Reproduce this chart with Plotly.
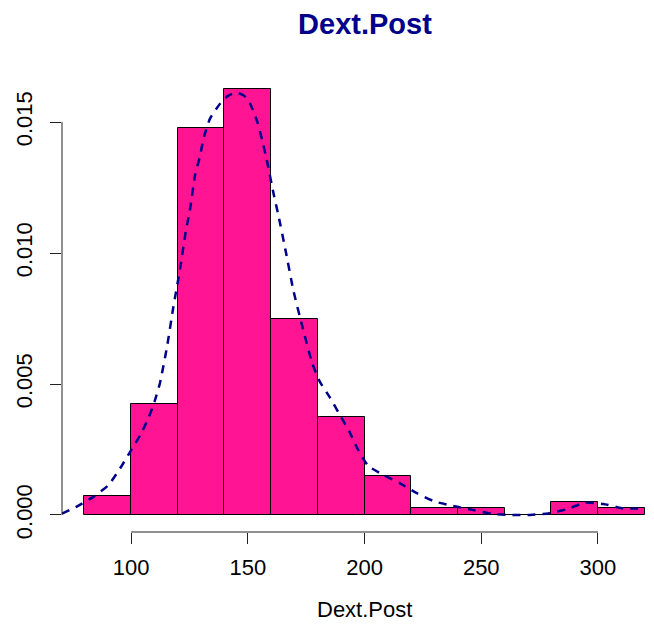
import plotly.graph_objects as go

# Histogram bins (width 20) and their densities
breaks = [80, 100, 120, 140, 160, 180, 200, 220, 240, 260, 280, 300, 320]
density = [0.00074, 0.00423, 0.01476, 0.01625, 0.00750, 0.00374, 0.00148,
           0.00025, 0.00025, 0.0, 0.00049, 0.00025]

# Kernel density estimate curve
kde_x = [70.4, 76.7, 84.3, 90.3, 95.3, 99.6, 103.9, 107.4, 110.0, 112.4, 115.5,
         118.1, 121.0, 123.4, 125.3, 127.4, 129.6, 131.0, 133.8, 138.1, 141.5,
         145.3, 148.5, 151.0, 154.1, 156.2, 158.0, 161.2, 163.1, 166.3, 169.5,
         173.4, 177.6, 180.9, 185.2, 189.5, 193.5, 197.3, 201.6, 208.0, 215.2,
         222.4, 230.2, 238.0, 246.6, 254.5, 262.3, 270.9, 278.7, 286.6, 294.4,
         302.3, 310.8, 320.0]
kde_y = [0.00005, 0.00032, 0.00072, 0.00114, 0.00178, 0.00241, 0.00305, 0.00369,
         0.00432, 0.00505, 0.00648, 0.00794, 0.00941, 0.01081, 0.01170, 0.01297,
         0.01373, 0.01437, 0.01513, 0.01570, 0.01600, 0.01613, 0.01600, 0.01570,
         0.01500, 0.01430, 0.01360, 0.01220, 0.01144, 0.01004, 0.00858, 0.00718,
         0.00579, 0.00508, 0.00448, 0.00381, 0.00318, 0.00248, 0.00187, 0.00153,
         0.00121, 0.00083, 0.00051, 0.00034, 0.00019, 0.00004, 0.0, 0.0,
         0.00006, 0.00022, 0.00047, 0.00042, 0.00025, 0.00025]

x_ticks = [100, 150, 200, 250, 300]
y_ticks = [0.0, 0.005, 0.010, 0.015]
y_tick_text = ["0.000", "0.005", "0.010", "0.015"]

centers = [(a + b) / 2 for a, b in zip(breaks[:-1], breaks[1:])]
widths = [b - a for a, b in zip(breaks[:-1], breaks[1:])]

FONT = "Liberation Sans, Arial, Helvetica, sans-serif"

fig = go.Figure()
fig.add_trace(go.Bar(
    x=centers, y=density, width=widths,
    marker=dict(color="#FF1493", line=dict(color="black", width=1)),
    showlegend=False, hoverinfo="x+y",
))
fig.add_trace(go.Scatter(
    x=kde_x, y=kde_y, mode="lines",
    line=dict(color="#00008B", width=2.5, dash="8px,7px", shape="spline", smoothing=0.5),
    showlegend=False, cliponaxis=True,
))

# axis lines spanning only the tick range
fig.add_shape(type="line", xref="paper", yref="y", x0=0, x1=0,
              y0=min(y_ticks), y1=max(y_ticks), line=dict(color="#222", width=1))
fig.add_shape(type="line", xref="x", yref="paper", y0=0, y1=0,
              x0=min(x_ticks), x1=max(x_ticks), line=dict(color="#222", width=1))

fig.add_annotation(text="Dext.Post", xref="paper", yref="paper",
                   x=0.5118, y=-0.169, xanchor="center", yanchor="middle",
                   showarrow=False, font=dict(family=FONT, size=22, color="black"))

fig.update_layout(
    width=654, height=624,
    margin=dict(l=62, r=0, t=71, b=92),
    paper_bgcolor="white", plot_bgcolor="white",
    bargap=0,
    title=dict(text="<b>Dext.Post</b>", xref="container", yref="container",
               x=365 / 654, y=1 - 24 / 624, xanchor="center", yanchor="middle",
               font=dict(family=FONT, size=29, color="#00008B")),
    font=dict(family=FONT, size=22, color="black"),
    xaxis=dict(range=[70.4, 324.0], tickvals=x_ticks, ticks="outside", ticklen=11,
               tickwidth=1, tickcolor="#222", showgrid=False, zeroline=False,
               showline=False, ticklabelstandoff=5),
    yaxis=dict(range=[-0.00065, 0.01695], tickvals=y_ticks, ticktext=y_tick_text,
               tickangle=-90, ticks="outside", ticklen=11, tickwidth=1,
               tickcolor="#222", showgrid=False, zeroline=False, showline=False,
               ticklabelstandoff=9),
)

fig.write_html("out.html")
